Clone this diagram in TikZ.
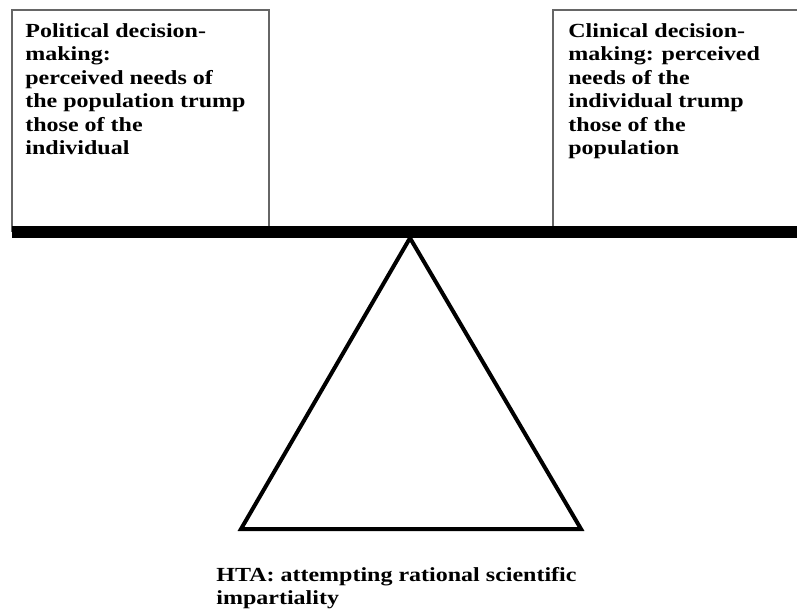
\documentclass[tikz,border=0pt]{standalone}
\usepackage{fontspec}
\setmainfont{Liberation Serif}
\usepackage{tikz}
\usetikzlibrary{positioning}

\begin{document}
\begin{tikzpicture}[x=0.75pt, y=-0.75pt,
					semithick,
					box/.style={draw=black!60, line width=0.8pt},
					label/.style={anchor=north west, align=left, inner sep=0pt,
						font=\bfseries\fontsize{15}{17.6}\selectfont\addfontfeature{FakeStretch=1.2}},
					beam/.style={line width=9pt},
					fulcrum/.style={line width=3pt, line join=miter}]

\useasboundingbox (0,0) rectangle (797,615);

% the two pans
\draw[box] (12,232) -- (12,10) -- (269,10) -- (269,232);
\draw[box] (553,232) -- (553,10) -- (800,10);
\node[label] (pol) at (25,23) {Political decision-\\making:\\perceived needs of\\the population trump\\those of the\\individual};
\node[label] (clin) at (568,23) {Clinical decision-\\making: perceived\\needs of the\\individual trump\\those of the\\population};

% beam and fulcrum
\coordinate (bl) at (12,232);
\coordinate (br) at (800,232);
\draw[beam] (bl) -- (br);
\coordinate (apex) at (410,238);
\coordinate (baseL) at (241,529);
\coordinate (baseR) at (581,529);
\draw[fulcrum] (apex) -- (baseL) -- (baseR) -- cycle;

\node[label] (hta) at (216,567) {HTA: attempting rational scientific\\impartiality};
\end{tikzpicture}
\end{document}
